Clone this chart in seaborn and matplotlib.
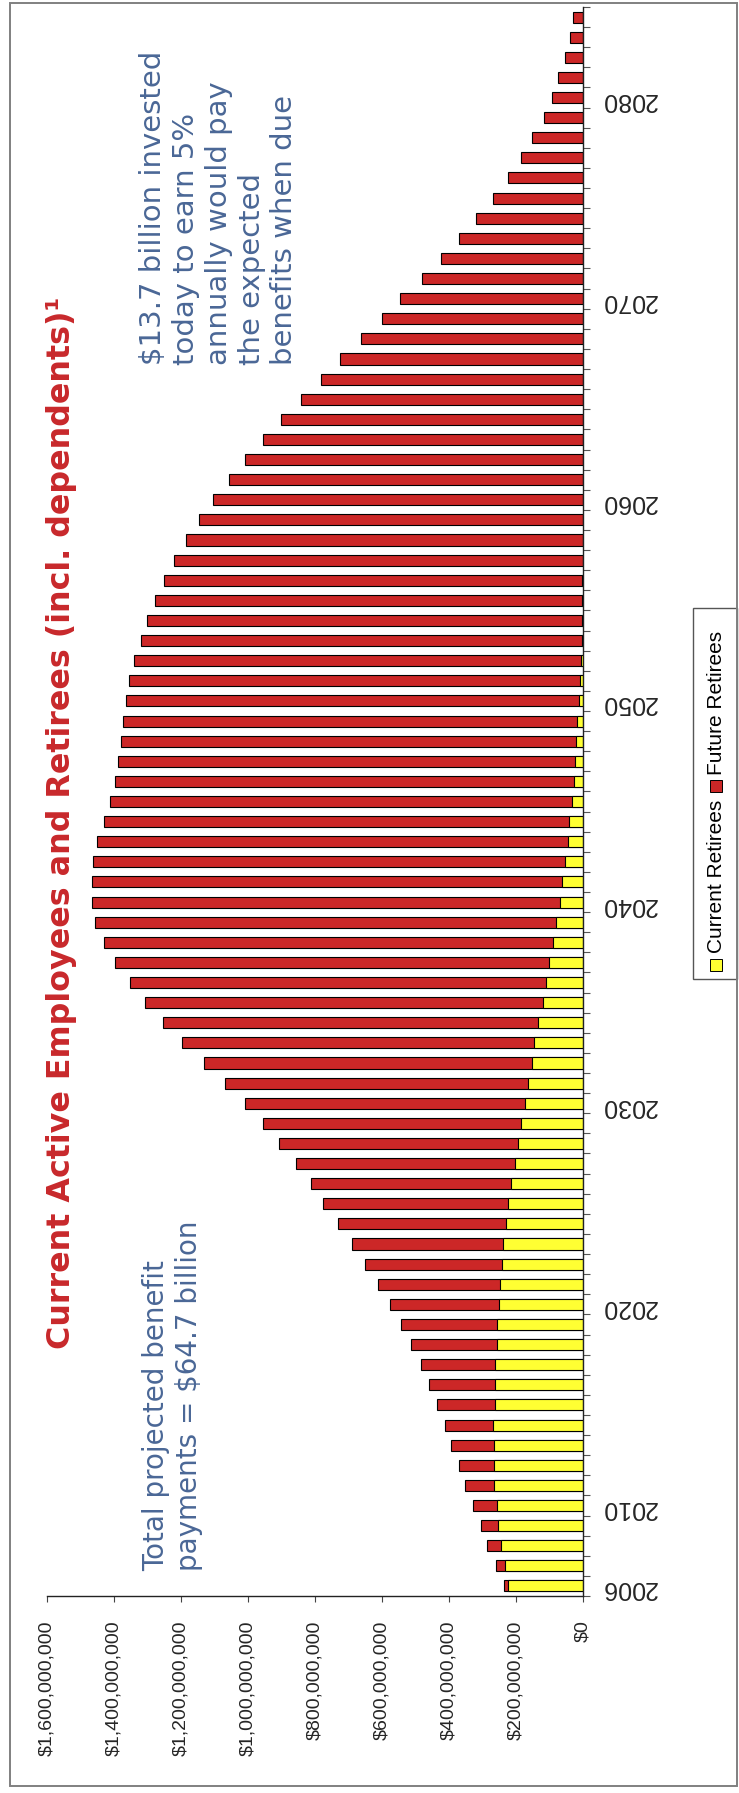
import numpy as np
import pandas as pd
import matplotlib
matplotlib.use("Agg")
import matplotlib.pyplot as plt
from matplotlib.patches import Rectangle
import seaborn as sns

# Projected annual benefit payments, $ millions
years = list(range(2006, 2085))
total_benefits = [
    236, 261, 286, 304, 328, 352, 371, 393, 411, 436,
    460, 485, 512, 543, 577, 612, 651, 691, 732, 775,
    812, 857, 906, 955, 1009, 1068, 1131, 1196, 1255, 1307,
    1352, 1396, 1431, 1458, 1465, 1465, 1462, 1451, 1431, 1411,
    1396, 1389, 1378, 1373, 1363, 1354, 1340, 1320, 1300, 1279,
    1251, 1221, 1186, 1147, 1103, 1058, 1009, 955, 901, 843,
    782, 725, 664, 601, 545, 481, 425, 369, 319, 268,
    225, 186, 151, 116, 92, 74, 53, 40, 29,
]
current_retirees = [
    224, 234, 244, 253, 256, 266, 267, 267, 269, 263,
    263, 263, 256, 256, 252, 248, 243, 238, 229, 224,
    214, 204, 193, 184, 174, 165, 153, 145, 135, 120,
    111, 101, 91, 80, 70, 62, 55, 46, 42, 32,
    28, 23, 20, 18, 11, 8, 6, 4, 3, 2,
    2, 1, 1, 1, 0, 0, 0, 0, 0, 0,
    0, 0, 0, 0, 0, 0, 0, 0, 0, 0,
    0, 0, 0, 0, 0, 0, 0, 0, 0,
]
tick_years = [2006, 2010, 2020, 2030, 2040, 2050, 2060, 2070, 2080]
value_ticks = [0, 200, 400, 600, 800, 1000, 1200, 1400, 1600]
series_names = ["Current Retirees", "Future Retirees"]

title_text = "Current Active Employees and Retirees (incl. dependents)\u00b9"
note_top = ("$13.7 billion invested\ntoday to earn 5%\nannually would pay\n"
            "the expected\nbenefits when due")
note_bottom = "Total projected benefit\npayments = $64.7 billion"

RED = "#CC2727"
YELLOW = "#FFFF33"
TITLE_RED = "#C8282B"
NOTE_BLUE = "#4A6796"

W, H = 739, 1793


def fx(px):
    return px / W


def fy(py):
    return 1 - py / H


sns.set_style("white")
plt.rcParams["font.family"] = ["Liberation Sans", "DejaVu Sans"]

df = pd.DataFrame({
    "year": years,
    "total": np.array(total_benefits) * 1e6,
    "current": np.array(current_retirees) * 1e6,
})

fig = plt.figure(figsize=(W / 100, H / 100), dpi=100)
ax = fig.add_axes([fx(47), 197 / H, (583 - 47) / W, (1596 - 7) / H])

common = dict(orient="h", native_scale=True, edgecolor="black", linewidth=0.8,
              width=0.55, errorbar=None, saturation=1, ax=ax)
sns.barplot(data=df, x="total", y="year", color=RED, **common)
sns.barplot(data=df, x="current", y="year", color=YELLOW, **common)

ax.set_xlim(1600e6, 0)
ax.set_ylim(2005.5, 2084.5)
ax.set_xlabel("")
ax.set_ylabel("")

for side in ["left", "top"]:
    ax.spines[side].set_visible(False)
for side in ["right", "bottom"]:
    ax.spines[side].set_color("#222222")
    ax.spines[side].set_linewidth(1.0)

# value axis
ax.set_xticks([v * 1e6 for v in value_ticks])
ax.set_xticklabels([f"${v * 1_000_000:,}" for v in value_ticks],
                   rotation=90, fontsize=14)
ax.tick_params(axis="x", which="major", length=4.5, width=0.8,
               color="#444444", pad=13, bottom=True)

# year axis
ax.yaxis.tick_right()
ax.set_yticks(tick_years)
ax.set_yticklabels([str(y) for y in tick_years], rotation=180, fontsize=18)
ax.set_yticks(np.arange(2005.5, 2085.0, 1.0), minor=True)
ax.tick_params(axis="y", which="major", length=0, pad=13,
               right=True, left=False)
ax.tick_params(axis="y", which="minor", length=5, width=0.8,
               color="#555555", right=True, left=False)

# title and notes
fig.text(fx(62), fy(823), title_text, rotation=90, ha="center", va="center",
         color=TITLE_RED, fontsize=22.9, fontweight="bold",
         family=["DejaVu Sans"])
fig.text(fx(139), fy(365), note_top, rotation=90, ha="left", va="bottom",
         multialignment="left", color=NOTE_BLUE, fontsize=21,
         linespacing=1.22, family=["DejaVu Sans"])
fig.text(fx(142), fy(1571), note_bottom, rotation=90, ha="left", va="bottom",
         multialignment="left", color=NOTE_BLUE, fontsize=20,
         linespacing=1.22, family=["DejaVu Sans"])

# legend, laid along the vertical edge
fig.patches.append(Rectangle((fx(693), fy(979)), (737 - 693) / W, (979 - 608) / H,
                             transform=fig.transFigure, fill=False,
                             edgecolor="#555555", lw=1.0))
for (cy, label_y, name, col) in [(965, 953, series_names[0], YELLOW),
                                 (786, 775, series_names[1], RED)]:
    fig.patches.append(Rectangle((fx(710), fy(cy + 6)), 12 / W, 12 / H,
                                 transform=fig.transFigure, facecolor=col,
                                 edgecolor="black", lw=0.7))
    fig.text(fx(716), fy(label_y), name, rotation=90, ha="center", va="bottom",
             fontsize=15, color="black")

# outer frame
fig.patches.append(Rectangle((fx(10), fy(1786)), (737 - 10) / W, (1786 - 3) / H,
                             transform=fig.transFigure, fill=False,
                             edgecolor="#808080", lw=1.4))

fig.savefig("out.png", dpi=100)
